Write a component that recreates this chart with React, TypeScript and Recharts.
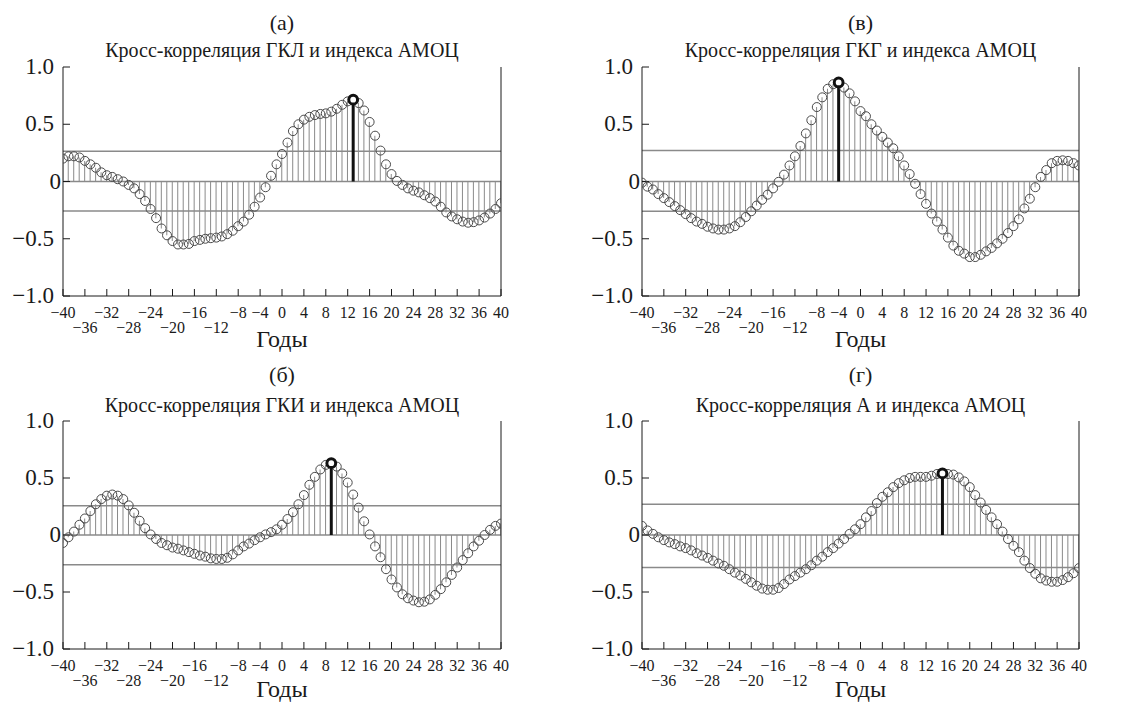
import React from "react";
import { ComposedChart, Bar, Scatter, XAxis, YAxis, ReferenceLine } from "recharts";

// lag, years
const lags = [
  -40, -39, -38, -37, -36, -35, -34, -33, -32, -31, -30, -29, -28, -27, -26, -25, -24, -23, -22, -21,
  -20, -19, -18, -17, -16, -15, -14, -13, -12, -11, -10, -9, -8, -7, -6, -5, -4, -3, -2, -1,
  0, 1, 2, 3, 4, 5, 6, 7, 8, 9, 10, 11, 12, 13, 14, 15, 16, 17, 18, 19,
  20, 21, 22, 23, 24, 25, 26, 27, 28, 29, 30, 31, 32, 33, 34, 35, 36, 37, 38, 39, 40,
];
const xTicks = [-40, -36, -32, -28, -24, -20, -16, -12, -8, -4, 0, 4, 8, 12, 16, 20, 24, 28, 32, 36, 40];
const yTicks = [-1, -0.5, 0, 0.5, 1];

// (а) ГКЛ
const gklValues = [
  0.2, 0.22, 0.22, 0.21, 0.18, 0.15, 0.12, 0.08, 0.055, 0.04, 0.02,
  0.0, -0.03, -0.06, -0.11, -0.17, -0.24, -0.32, -0.41, -0.47, -0.52,
  -0.55, -0.55, -0.545, -0.52, -0.51, -0.5, -0.495, -0.49, -0.48, -0.46,
  -0.43, -0.39, -0.35, -0.29, -0.22, -0.14, -0.05, 0.05, 0.15, 0.24,
  0.34, 0.44, 0.5, 0.54, 0.565, 0.58, 0.59, 0.595, 0.61, 0.635,
  0.67, 0.7, 0.715, 0.685, 0.62, 0.52, 0.4, 0.27, 0.15, 0.065,
  0.005, -0.03, -0.06, -0.08, -0.095, -0.12, -0.145, -0.175, -0.22, -0.27,
  -0.305, -0.33, -0.35, -0.36, -0.355, -0.34, -0.315, -0.28, -0.24, -0.19,
];
// (в) ГКГ
const gkgValues = [
  -0.01, -0.045, -0.07, -0.11, -0.145, -0.18, -0.215, -0.25, -0.285, -0.32, -0.35,
  -0.37, -0.395, -0.41, -0.42, -0.42, -0.41, -0.39, -0.355, -0.31, -0.26,
  -0.21, -0.16, -0.115, -0.06, -0.003, 0.06, 0.14, 0.22, 0.31, 0.42,
  0.535, 0.65, 0.735, 0.81, 0.85, 0.865, 0.82, 0.77, 0.7, 0.615,
  0.57, 0.5, 0.445, 0.39, 0.34, 0.29, 0.22, 0.14, 0.065, -0.02,
  -0.11, -0.195, -0.28, -0.35, -0.42, -0.49, -0.56, -0.605, -0.63, -0.66,
  -0.66, -0.64, -0.61, -0.58, -0.54, -0.5, -0.45, -0.39, -0.33, -0.235,
  -0.15, -0.05, 0.04, 0.1, 0.16, 0.18, 0.185, 0.18, 0.16, 0.14,
];
// (б) ГКИ
const gkiValues = [
  -0.07, -0.02, 0.03, 0.09, 0.145, 0.21, 0.27, 0.315, 0.345, 0.355, 0.345,
  0.315, 0.26, 0.195, 0.125, 0.06, 0.005, -0.035, -0.07, -0.09, -0.11,
  -0.12, -0.135, -0.15, -0.165, -0.18, -0.19, -0.205, -0.21, -0.21, -0.2,
  -0.17, -0.135, -0.1, -0.075, -0.045, -0.02, 0.005, 0.025, 0.05, 0.09,
  0.14, 0.2, 0.27, 0.35, 0.44, 0.51, 0.575, 0.615, 0.63, 0.6,
  0.54, 0.46, 0.355, 0.24, 0.12, 0.005, -0.1, -0.195, -0.3, -0.39,
  -0.46, -0.52, -0.555, -0.575, -0.59, -0.585, -0.565, -0.525, -0.475, -0.415,
  -0.35, -0.285, -0.22, -0.16, -0.1, -0.05, 0.0, 0.045, 0.08, 0.1,
];
// (г) А
const aValues = [
  0.08, 0.04, 0.01, -0.02, -0.045, -0.065, -0.08, -0.1, -0.115, -0.135, -0.16,
  -0.18, -0.2, -0.225, -0.25, -0.27, -0.3, -0.33, -0.355, -0.385, -0.415,
  -0.445, -0.47, -0.48, -0.48, -0.465, -0.43, -0.39, -0.36, -0.33, -0.3,
  -0.265, -0.225, -0.19, -0.15, -0.115, -0.075, -0.035, 0.01, 0.05, 0.095,
  0.155, 0.21, 0.28, 0.335, 0.375, 0.42, 0.455, 0.48, 0.5, 0.51,
  0.51, 0.51, 0.52, 0.535, 0.54, 0.535, 0.53, 0.505, 0.47, 0.42,
  0.35, 0.285, 0.22, 0.155, 0.095, 0.03, -0.035, -0.095, -0.15, -0.225,
  -0.29, -0.34, -0.38, -0.4, -0.41, -0.41, -0.395, -0.37, -0.335, -0.29,
];

const peakLags = [13, -4, 9, 15];
const confUpper = [0.265, 0.27, 0.257, 0.27];
const confLower = [-0.257, -0.26, -0.26, -0.285];
const letters = ["(а)", "(в)", "(б)", "(г)"];
const titles = [
  "Кросс-корреляция ГКЛ и индекса АМОЦ",
  "Кросс-корреляция ГКГ и индекса АМОЦ",
  "Кросс-корреляция ГКИ и индекса АМОЦ",
  "Кросс-корреляция А и индекса АМОЦ",
];
const seriesList = [gklValues, gkgValues, gkiValues, aValues];

const FONT = "Liberation Serif";
const INK = "#1a1a1a";
const GRAY = "#8a8a8a";

// layout for each panel: page position and plot-area insets
const layout = [
  { left: 0, top: 0, width: 567, height: 357, mTop: 67, mBottom: 7, leftW: 63, rightW: 66, titleY: 30, subY: 57, labelOffset: 3 },
  { left: 567, top: 0, width: 567, height: 357, mTop: 67, mBottom: 7, leftW: 75, rightW: 55, titleY: 30, subY: 57, labelOffset: 3 },
  { left: 0, top: 350, width: 567, height: 360, mTop: 71, mBottom: 7, leftW: 63, rightW: 66, titleY: 32, subY: 62, labelOffset: 6 },
  { left: 567, top: 350, width: 567, height: 360, mTop: 71, mBottom: 7, leftW: 75, rightW: 55, titleY: 32, subY: 62, labelOffset: 6 },
];

const minus = (s: string) => s.replace("-", "\u2212");

function XTick(props: any) {
  const { x, y, payload } = props;
  const v = payload.value;
  const lower = v < -8 && (v / 4) % 2 !== 0;
  return (
    <text x={x} y={y + (lower ? 44 : 29)} textAnchor="middle" fontFamily={FONT} fontSize={16} fill={INK}>
      {minus(String(v))}
    </text>
  );
}

function YTick(props: any) {
  const { x, y, payload } = props;
  const v = payload.value;
  const label = v === 0 ? "0" : minus(v.toFixed(1));
  return (
    <text x={v === 0 ? x + 7 : x} y={y + 7} textAnchor="end" fontFamily={FONT} fontSize={23} fill={INK}>
      {label}
    </text>
  );
}

function Ring(props: any) {
  return <circle cx={props.cx} cy={props.cy} r={4.5} fill="none" stroke="#4a4a4a" strokeWidth={1} />;
}

function PeakRing(props: any) {
  return <circle cx={props.cx} cy={props.cy} r={4.4} fill="#fff" stroke="#111" strokeWidth={3} />;
}

function Panel({ idx }: { idx: number }) {
  const L = layout[idx];
  const values = seriesList[idx];
  const rows = lags.map((lag, i) => ({ lag, value: values[i] }));
  const peak = rows[lags.indexOf(peakLags[idx])];
  const plotW = L.width - L.leftW - L.rightW;
  const cx = L.leftW + plotW / 2;
  return (
    <div style={{ position: "absolute", left: L.left, top: L.top, width: L.width, height: L.height }}>
      <svg width={L.width} height={L.mTop} style={{ position: "absolute", left: 0, top: 0 }}>
        <text x={cx} y={L.titleY} textAnchor="middle" fontFamily={FONT} fontSize={22} fill={INK}>
          {letters[idx]}
        </text>
        <text x={cx} y={L.subY} textAnchor="middle" fontFamily={FONT} fontSize={20} fill={INK}>
          {titles[idx]}
        </text>
      </svg>
      <div style={{ position: "absolute", left: 0, top: 0 }}>
        <ComposedChart width={L.width} height={L.height} data={rows} margin={{ top: L.mTop, right: 0, bottom: L.mBottom, left: 0 }}>
          <XAxis
            dataKey="lag"
            type="number"
            domain={[-40, 40]}
            ticks={xTicks}
            interval={0}
            height={54}
            tickSize={-7}
            tickMargin={0}
            tick={<XTick />}
            axisLine={{ stroke: INK }}
            tickLine={{ stroke: INK }}
            allowDataOverflow
            label={{ value: "Годы", position: "insideBottom", offset: L.labelOffset, fontSize: 24, fill: INK, fontFamily: FONT }}
          />
          <XAxis xAxisId="top" orientation="top" type="number" domain={[-40, 40]} height={0} tick={false} tickLine={false} axisLine={{ stroke: INK }} />
          <YAxis
            type="number"
            domain={[-1, 1]}
            ticks={yTicks}
            width={L.leftW}
            tickSize={-7}
            tickMargin={16}
            tick={<YTick />}
            axisLine={{ stroke: INK }}
            tickLine={{ stroke: INK }}
            allowDataOverflow
          />
          <YAxis
            yAxisId="r"
            orientation="right"
            type="number"
            domain={[-1, 1]}
            ticks={yTicks}
            width={L.rightW}
            tickSize={-7}
            tick={false}
            axisLine={{ stroke: INK }}
            tickLine={{ stroke: INK }}
          />
          <Bar dataKey="value" barSize={1} fill={GRAY} isAnimationActive={false} />
          <ReferenceLine y={0} stroke={GRAY} strokeWidth={1.3} />
          <ReferenceLine y={confUpper[idx]} stroke={GRAY} strokeWidth={1.5} />
          <ReferenceLine y={confLower[idx]} stroke={GRAY} strokeWidth={1.5} />
          <Scatter dataKey="value" shape={<Ring />} isAnimationActive={false} />
          <ReferenceLine
            segment={[
              { x: peak.lag, y: 0 },
              { x: peak.lag, y: peak.value },
            ]}
            stroke="#111"
            strokeWidth={3}
          />
          <Scatter data={[peak]} dataKey="value" shape={<PeakRing />} isAnimationActive={false} />
        </ComposedChart>
      </div>
    </div>
  );
}

export default function App() {
  return (
    <div style={{ position: "fixed", left: 0, top: 0, width: 1134, height: 703, background: "#fff", overflow: "hidden" }}>
      <Panel idx={0} />
      <Panel idx={1} />
      <Panel idx={2} />
      <Panel idx={3} />
    </div>
  );
}
